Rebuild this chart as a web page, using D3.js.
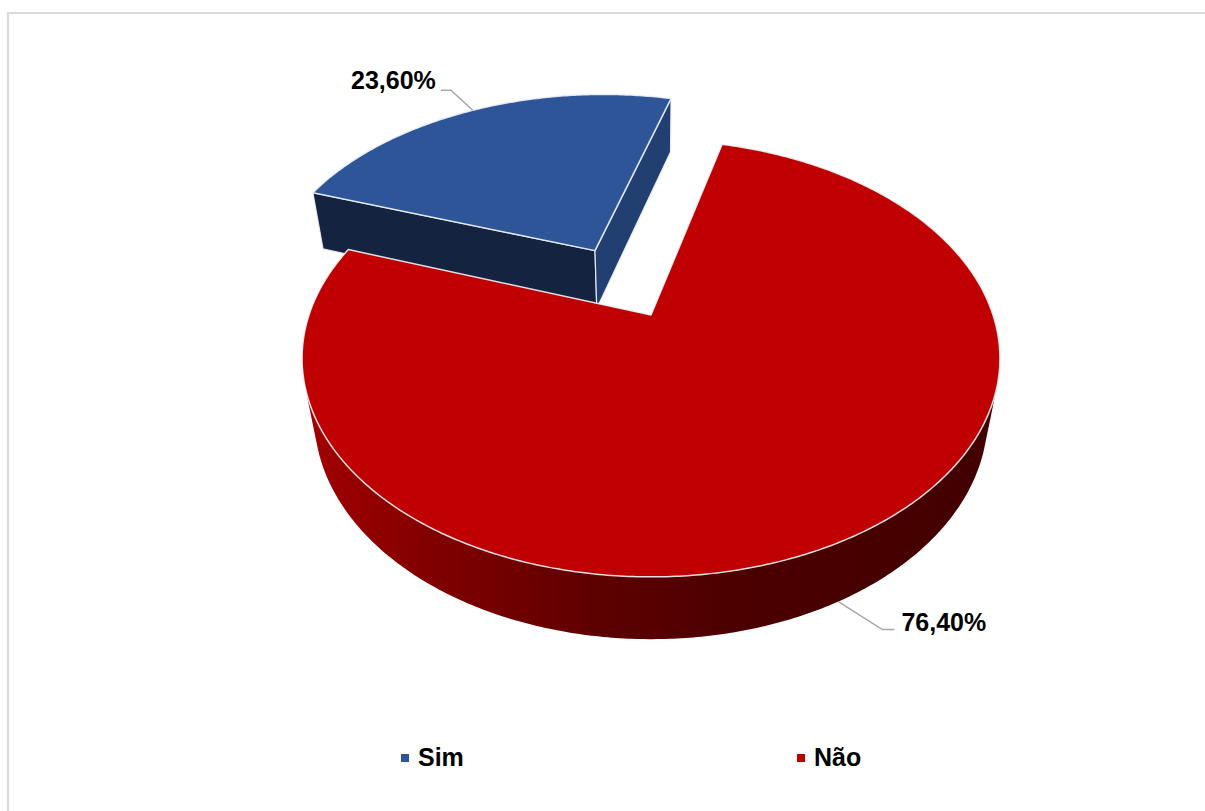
<!DOCTYPE html>
<html>
<head>
<meta charset="utf-8">
<script src="https://cdn.jsdelivr.net/npm/d3@7"></script>
<style>
  html, body { margin: 0; padding: 0; background: #fff; }
  svg { display: block; }
  text { font-family: "Liberation Sans", Arial, sans-serif; font-weight: bold; fill: #000; }
</style>
</head>
<body>
<svg id="chart" width="1205" height="811"></svg>
<script>
// ---- data ----
const categories = ["Sim", "Não"];
const values = [23.6, 76.4];
const valueLabels = ["23,60%", "76,40%"];

// ---- styling / layout ----
const W = 1205, H = 811;
const topColors = ["#2E5597", "#C00000"];
const startFaceColors = ["#14233F", "#8a0000"];
const endFaceColors = ["#223F72", "#8a0000"];
const explodeFrac = [0.37, 0];
const START_DEG = 289.4;

// 3D projection parameters (normalized radius = 1)
const CX = 651, CY = 315, A = 342;
const SINP = 0.614, COSP = Math.sqrt(1 - SINP * SINP);
const K = 0.251, HGT = 0.227;

function P(x, y, z) {
  const w = 1 + K * (z * COSP - y * SINP);
  return [CX + A * x / w, CY - A * (y * COSP + z * SINP) / w];
}
const CAM = [0, SINP / K, -COSP / K];

const svg = d3.select("#chart");

// border
svg.append("rect").attr("x", 8).attr("y", 13).attr("width", 1400).attr("height", 1000)
  .attr("fill", "none").attr("stroke", "#d9d9d9").attr("stroke-width", 2);

// side gradient
const defs = svg.append("defs");
const grad = defs.append("linearGradient").attr("id", "sideGrad")
  .attr("gradientUnits", "userSpaceOnUse")
  .attr("x1", CX - A - 10).attr("x2", CX + A + 10).attr("y1", 0).attr("y2", 0);
[[0, "#a50000"], [0.2, "#7f0000"], [0.42, "#5e0000"], [0.62, "#4c0000"], [1, "#420000"]]
  .forEach(([o, c]) => grad.append("stop").attr("offset", o).attr("stop-color", c));

const pie = d3.pie().sort(null).value(d => d)
  .startAngle(START_DEG * Math.PI / 180)
  .endAngle(START_DEG * Math.PI / 180 + 2 * Math.PI);
const arcs = pie(values);

const line = d3.line();
const EDGE = "rgba(238,242,248,0.9)";

function rimPts(t0, t1, y, ox, oz) {
  const n = Math.max(4, Math.ceil(Math.abs(t1 - t0) / 0.01));
  const pts = [];
  for (let i = 0; i <= n; i++) {
    const t = t0 + (t1 - t0) * i / n;
    pts.push(P(ox + Math.sin(t), y, oz + Math.cos(t)));
  }
  return pts;
}

const geo = arcs.map((a, i) => {
  const mid = (a.startAngle + a.endAngle) / 2;
  const e = explodeFrac[i];
  return { a, i, mid, ox: e * Math.sin(mid), oz: e * Math.cos(mid) };
});

// draw far slice first (exploded Sim), then main slice
const order = geo.slice().sort((p, q) => q.oz - p.oz);

order.forEach(g => {
  const { a, i, ox, oz } = g;
  const t0 = a.startAngle, t1 = a.endAngle;
  const gSl = svg.append("g");

  // outer side visible runs
  const N = Math.ceil((t1 - t0) / 0.005);
  let run = null; const runs = [];
  for (let j = 0; j <= N; j++) {
    const t = t0 + (t1 - t0) * j / N;
    const px = ox + Math.sin(t), pz = oz + Math.cos(t);
    const vis = Math.sin(t) * (CAM[0] - px) + Math.cos(t) * (CAM[2] - pz) > 0;
    if (vis) { if (!run) { run = [t, t]; runs.push(run); } run[1] = t; }
    else run = null;
  }
  runs.forEach(r => {
    const topP = rimPts(r[0], r[1], 0, ox, oz);
    const botP = rimPts(r[0], r[1], -HGT, ox, oz).reverse();
    gSl.append("path").attr("d", line(topP.concat(botP)) + "Z")
      .attr("fill", i === 1 ? "url(#sideGrad)" : d3.color(topColors[i]).darker(1.2))
      .attr("stroke", "none");
  });

  // radial faces
  const faces = [
    { t: t0, n: [-Math.cos(t0), Math.sin(t0)], col: startFaceColors[i] },
    { t: t1, n: [Math.cos(t1), -Math.sin(t1)], col: endFaceColors[i] }
  ];
  faces.forEach(f => {
    const vis = f.n[0] * (CAM[0] - ox) + f.n[1] * (CAM[2] - oz) > 0;
    if (!vis) return;
    const pts = [
      P(ox, 0, oz), P(ox + Math.sin(f.t), 0, oz + Math.cos(f.t)),
      P(ox + Math.sin(f.t), -HGT, oz + Math.cos(f.t)), P(ox, -HGT, oz)
    ];
    gSl.append("path").attr("d", line(pts) + "Z")
      .attr("fill", f.col).attr("stroke", EDGE).attr("stroke-width", 1.2)
      .attr("stroke-linejoin", "round");
  });

  // top face
  const topPts = [P(ox, 0, oz)].concat(rimPts(t0, t1, 0, ox, oz));
  gSl.append("path").attr("d", line(topPts) + "Z")
    .attr("fill", topColors[i]).attr("stroke", EDGE).attr("stroke-width", 1.5)
    .attr("stroke-linejoin", "round");
});

// data labels with leader lines
geo.forEach(g => {
  const { i, mid, ox, oz } = g;
  const lbl = svg.append("g");
  let anchor, pts, tx, ty, ta;
  if (oz > 0) {
    anchor = P(ox + Math.sin(mid), 0, oz + Math.cos(mid));
    pts = [anchor, [anchor[0] - 22, anchor[1] - 20], [anchor[0] - 32, anchor[1] - 20]];
    tx = anchor[0] - 37; ty = anchor[1] - 21; ta = "end";
  } else {
    anchor = P(ox + Math.sin(mid), -HGT, oz + Math.cos(mid));
    pts = [anchor, [anchor[0] + 44, anchor[1] + 28], [anchor[0] + 56, anchor[1] + 28]];
    tx = anchor[0] + 63; ty = anchor[1] + 29; ta = "start";
  }
  lbl.append("path").attr("d", line(pts)).attr("fill", "none")
    .attr("stroke", "#a6a6a6").attr("stroke-width", 1.5);
  lbl.append("text").attr("x", tx).attr("y", ty).attr("text-anchor", ta)
    .attr("font-size", 25).text(valueLabels[i]);
});

// legend
const lx = d3.scalePoint().domain(categories).range([401, 797]);
const leg = svg.append("g");
categories.forEach((c, i) => {
  leg.append("rect").attr("x", lx(c)).attr("y", 754).attr("width", 8).attr("height", 8)
    .attr("fill", topColors[i]);
  leg.append("text").attr("x", lx(c) + 17).attr("y", 766).attr("font-size", 25).text(c);
});
</script>
</body>
</html>
